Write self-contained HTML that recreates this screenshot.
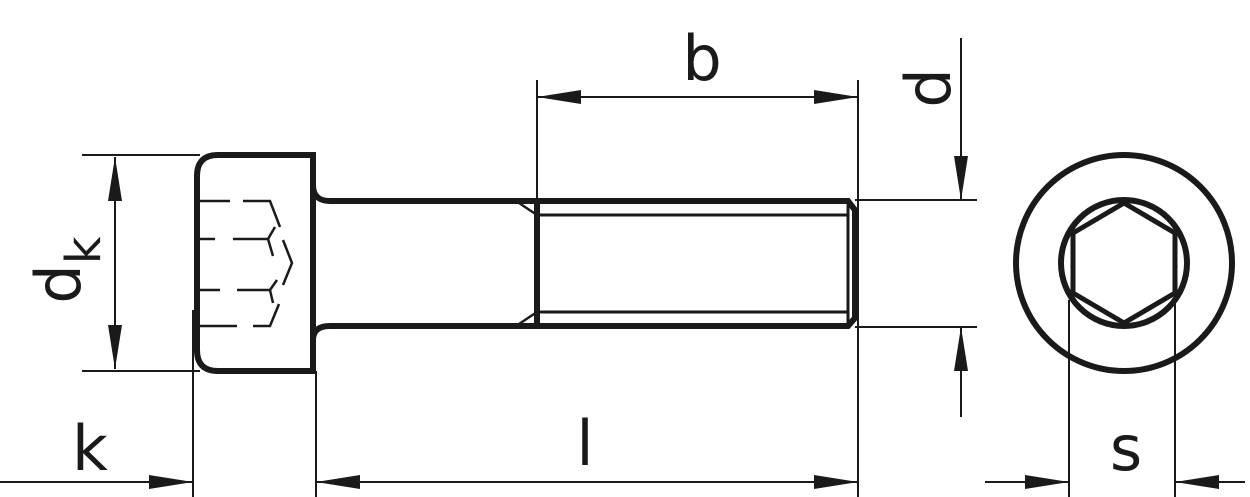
<!DOCTYPE html>
<html><head><style>body{margin:0;background:#fff}svg{display:block}</style></head>
<body>
<svg width="1250" height="497" viewBox="0 0 1250 497" xmlns="http://www.w3.org/2000/svg">
<defs>
<marker id="a" markerWidth="44" markerHeight="14" refX="44" refY="7" orient="auto-start-reverse" markerUnits="userSpaceOnUse"><path d="M0,0 L44,7 L0,14 Z" fill="#1a1a1a"/></marker>
</defs>
<g stroke="#1a1a1a" fill="none">
<path d="M313,155 L218,155 Q197,155 197,176 L197,350 Q197,371 218,371 L313,371 Z" stroke-width="6"/>
<path d="M313,185 Q313,201 330,201 L537,201" stroke-width="6"/>
<path d="M313,340 Q313,326 330,326 L537,326" stroke-width="6"/>
<path d="M537,201 L848,201 L855,210 L855,318 L848,326 L537,326" stroke-width="6"/>
<path d="M537,201 V326" stroke-width="6"/>
<path d="M537,215 H848 M537,312 H848 M848,201 V326" stroke-width="3"/>
<path d="M519,203 L537,215 M519,324 L537,312" stroke-width="2.5"/>
<g stroke-width="2.5">
<path d="M200,201 H230 M243,201 H270 L280,227"/>
<path d="M200,239 H215 M233,239 H268 L275,227 M268,239 L273,256"/>
<path d="M283,240 L292,263 L283,285"/>
<path d="M200,290 H220 M237,290 H270 L277,280 M270,290 L273,303"/>
<path d="M200,326 H237 M253,326 H270 L279,304"/>
</g>
<g stroke-width="2">
<path d="M82,155 H200 M82,371 H200"/>
<path d="M115,157 V369" marker-start="url(#a)" marker-end="url(#a)"/>
<path d="M193,310 V497 M316,371 V497 M537,80 V200 M858,80 V497"/>
<path d="M537,97 H858" marker-start="url(#a)" marker-end="url(#a)"/>
<path d="M0,482 H193" marker-end="url(#a)"/>
<path d="M316,482 H858" marker-start="url(#a)" marker-end="url(#a)"/>
<path d="M855,200 H977 M855,327 H977"/>
<path d="M961,38 V200" marker-end="url(#a)"/>
<path d="M961,417 V327" marker-end="url(#a)"/>
<path d="M1069,300 V497 M1175,300 V497"/>
<path d="M985,482 H1069" marker-end="url(#a)"/>
<path d="M1245,482 H1175" marker-end="url(#a)"/>
</g>
<circle cx="1124" cy="263" r="108" stroke-width="6"/>
<circle cx="1124" cy="263" r="63" stroke-width="6"/>
<polygon points="1124,203 1175,233 1175,293 1124,323 1073,293 1073,233" stroke-width="5"/>
</g>
<g font-family="DejaVu Sans, Liberation Sans, sans-serif" fill="#1a1a1a" font-size="62">
<text x="702" y="80" text-anchor="middle">b</text>
<text x="90" y="470" text-anchor="middle">k</text>
<text x="585" y="465" text-anchor="middle">l</text>
<text x="1126" y="470" text-anchor="middle">s</text>
<text transform="translate(950,88) rotate(-90)" text-anchor="middle">d</text>
<text transform="translate(80,270) rotate(-90)" text-anchor="middle">d<tspan font-size="48" dy="20">k</tspan></text>
</g>
</svg>
</body></html>
